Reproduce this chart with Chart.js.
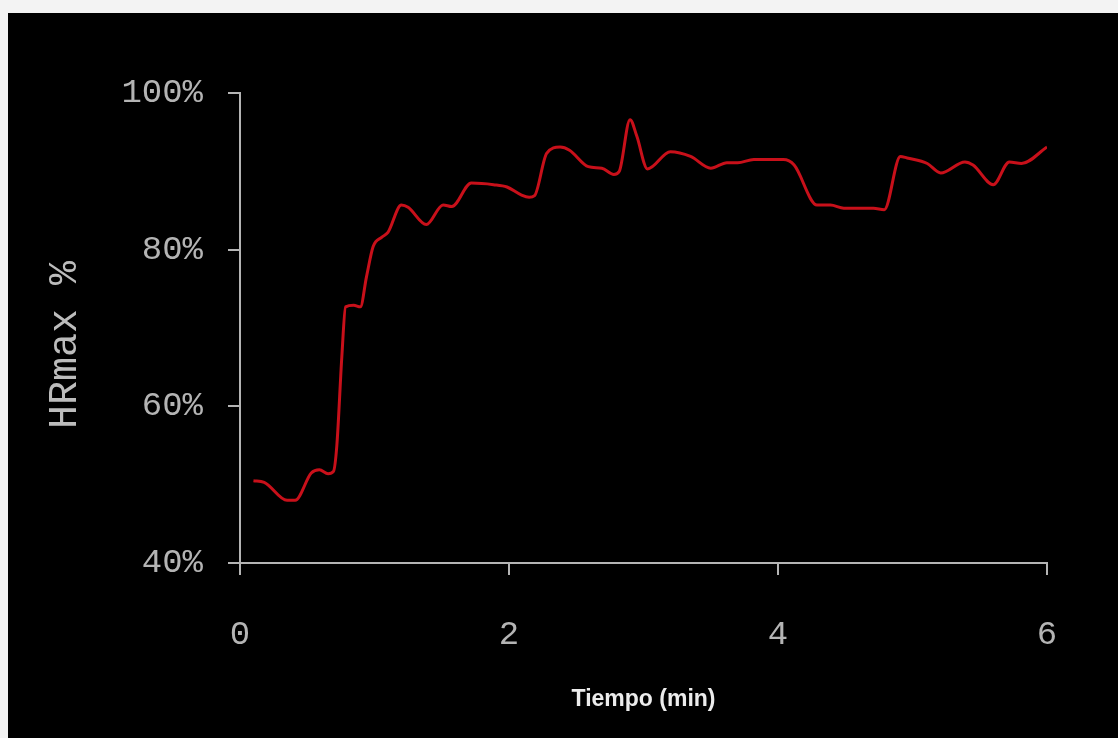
<!DOCTYPE html>
<html>
<head>
<meta charset="utf-8">
<script src="https://cdn.jsdelivr.net/npm/chart.js@4/dist/chart.umd.min.js"></script>
<style>
  html, body { margin: 0; padding: 0; background: #f3f3f3; }
  #panel { position: absolute; left: 8px; top: 13px; width: 1110px; height: 725px; background: #000; }
  #panel canvas { display: block; }
</style>
</head>
<body>
<div id="panel"><canvas id="hr" width="1110" height="725"></canvas></div>
<script>
// Heart rate as a share of HRmax over a 6-minute effort
const timeMin = [0.10, 0.18, 0.35, 0.41, 0.53, 0.59, 0.655, 0.695, 0.72, 0.757,
  0.785, 0.845, 0.895, 0.94, 0.99, 1.055, 1.10, 1.20, 1.25, 1.385,
  1.51, 1.575, 1.72, 1.885, 1.985, 2.09, 2.15, 2.19, 2.28, 2.38,
  2.45, 2.59, 2.69, 2.78, 2.82, 2.90, 2.95, 3.03, 3.20, 3.35,
  3.50, 3.62, 3.70, 3.82, 4.04, 4.12, 4.29, 4.39, 4.49, 4.71,
  4.79, 4.91, 4.96, 5.11, 5.21, 5.39, 5.45, 5.60, 5.72, 5.81, 6.00];
const hrPct = [50.5, 50.3, 48.0, 48.0, 51.5, 51.9, 51.4, 51.7, 55.0, 66.3,
  72.7, 72.9, 72.7, 76.5, 80.4, 81.6, 82.2, 85.7, 85.4, 83.2,
  85.7, 85.5, 88.5, 88.3, 88.0, 87.0, 86.7, 86.9, 92.3, 93.1,
  92.7, 90.6, 90.4, 89.6, 90.0, 96.6, 94.5, 90.3, 92.5, 91.9,
  90.4, 91.1, 91.1, 91.5, 91.5, 90.8, 85.7, 85.7, 85.3, 85.3,
  85.1, 91.9, 91.7, 91.0, 89.8, 91.2, 90.8, 88.3, 91.2, 91.0, 93.1];
const xTicks = [0, 2, 4, 6];
const yTicks = [40, 60, 80, 100];
const xTitle = 'Tiempo (min)';
const yTitle = 'HRmax %';

const axisColor = '#b4b4b4';
const monoFont = "'Liberation Mono', 'DejaVu Sans Mono', monospace";

const points = timeMin.map((t, i) => ({ x: t, y: hrPct[i] }));

// Vertical axis title, set a little below the middle of the plot, left of the tick labels
const yTitlePlugin = {
  id: 'yTitle',
  afterDraw(chart) {
    const { ctx, chartArea } = chart;
    ctx.save();
    ctx.translate(57, (chartArea.top + chartArea.bottom) / 2 + 17);
    ctx.rotate(-Math.PI / 2);
    ctx.font = '40px ' + monoFont;
    ctx.fillStyle = '#bcbcbc';
    ctx.textAlign = 'center';
    ctx.textBaseline = 'middle';
    ctx.fillText(yTitle, 0, 0);
    ctx.restore();
  }
};

new Chart(document.getElementById('hr'), {
  type: 'line',
  data: {
    datasets: [{
      data: points,
      borderColor: '#c8101a',
      borderWidth: 3,
      pointRadius: 0,
      fill: false,
      cubicInterpolationMode: 'monotone'
    }]
  },
  plugins: [yTitlePlugin],
  options: {
    responsive: false,
    animation: false,
    events: [],
    layout: { padding: { top: 80, right: 71, left: 0, bottom: 0 } },
    plugins: { legend: { display: false }, tooltip: { enabled: false } },
    scales: {
      x: {
        type: 'linear',
        min: xTicks[0],
        max: xTicks[xTicks.length - 1],
        afterBuildTicks: s => { s.ticks = xTicks.map(v => ({ value: v })); },
        afterFit: s => { s.height = 175; },
        border: { display: true, color: axisColor, width: 2 },
        grid: { drawOnChartArea: false, drawTicks: true, tickLength: 12, color: axisColor, lineWidth: 2 },
        ticks: { color: axisColor, font: { family: monoFont, size: 34 }, padding: 40, maxRotation: 0 },
        title: {
          display: true, text: xTitle, color: '#ececec',
          font: { family: "'Liberation Sans Narrow', 'Liberation Sans', Arial, sans-serif", size: 23, weight: 'bold' },
          padding: { top: 0, bottom: 25 }
        }
      },
      y: {
        type: 'linear',
        min: yTicks[0],
        max: yTicks[yTicks.length - 1],
        afterBuildTicks: s => { s.ticks = yTicks.map(v => ({ value: v })); },
        afterFit: s => { s.width = 232; },
        border: { display: true, color: axisColor, width: 2 },
        grid: { drawOnChartArea: false, drawTicks: true, tickLength: 12, color: axisColor, lineWidth: 2 },
        ticks: { color: axisColor, font: { family: monoFont, size: 34 }, padding: 25, callback: v => v + '%' },
        title: { display: false }
      }
    }
  }
});
</script>
</body>
</html>
